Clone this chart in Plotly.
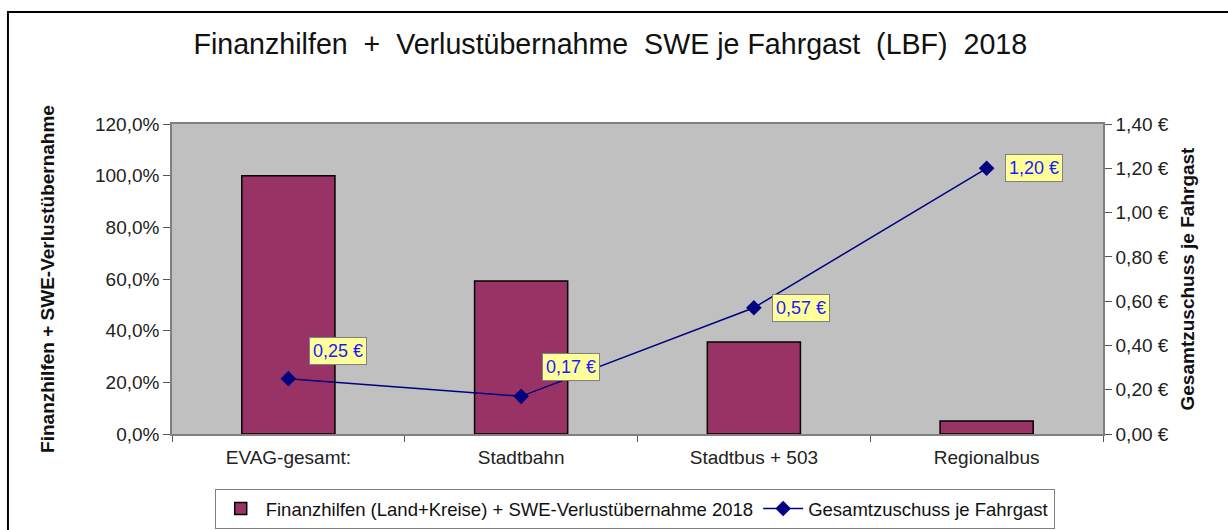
import plotly.graph_objects as go

categories = ["EVAG-gesamt:", "Stadtbahn", "Stadtbus + 503", "Regionalbus"]
bar_values = [100.0, 59.2, 35.6, 5.0]          # Finanzhilfen + SWE-Verlustübernahme, %
line_values = [0.25, 0.17, 0.57, 1.20]         # Gesamtzuschuss je Fahrgast, €
line_labels = ["0,25 €", "0,17 €", "0,57 €", "1,20 €"]
label_shifts = [(50, 28), (50, 29), (47, 0), (47, 0)]

FONT = "Liberation Sans, Arial, sans-serif"

fig = go.Figure()
fig.add_trace(go.Bar(
    x=categories, y=bar_values,
    name="Finanzhilfen (Land+Kreise) + SWE-Verlustübernahme 2018",
    marker=dict(color="#993366", line=dict(color="#000000", width=1.5)),
    width=0.4, yaxis="y",
))
fig.add_trace(go.Scatter(
    x=categories, y=line_values, yaxis="y2",
    name="Gesamtzuschuss je Fahrgast",
    mode="lines+markers",
    line=dict(color="#000080", width=1.5),
    marker=dict(symbol="diamond", size=12, color="#000080"),
))

for c, v, t, (dx, dy) in zip(categories, line_values, line_labels, label_shifts):
    fig.add_annotation(
        x=c, y=v, xref="x", yref="y2", text=t, showarrow=False,
        xshift=dx, yshift=dy,
        font=dict(family=FONT, size=18, color="#1a1aff"),
        bgcolor="#FFFF99", bordercolor="#808080", borderwidth=1, borderpad=3,
    )

# outer chart frame
fig.add_shape(type="rect", xref="paper", yref="paper",
              x0=-0.1762, x1=1.2, y0=-0.4, y1=1.3613,
              line=dict(color="#000000", width=2), layer="below")

fig.update_layout(
    width=1228, height=530,
    margin=dict(l=172, r=125, t=124, b=96, autoexpand=False),
    paper_bgcolor="#FFFFFF", plot_bgcolor="#C0C0C0",
    separators=",.",
    font=dict(family=FONT, size=19, color="#222222"),
    title=dict(
        text="Finanzhilfen\u00a0 +\u00a0 Verlustübernahme\u00a0 SWE je Fahrgast\u00a0 (LBF)\u00a0 2018",
        x=0.497, xanchor="center", y=0.917, yanchor="middle",
        font=dict(family=FONT, size=28.6, color="#111111"),
    ),
    bargap=0.6,
    xaxis=dict(
        automargin=False,
        showgrid=False, showline=True, linecolor="#808080", linewidth=1.5, mirror=True,
        ticks="outside", tickson="boundaries", ticklen=6, tickcolor="#555555",
        tickfont=dict(size=19, color="#222222"), ticklabelstandoff=5,
    ),
    yaxis=dict(
        automargin=False,
        range=[0, 120], dtick=20, tickformat=".1f", ticksuffix="%",
        showgrid=False, showline=True, linecolor="#808080", linewidth=1.5,
        ticks="outside", ticklen=7, tickcolor="#555555",
        zeroline=False,
        title=dict(text="<b>Finanzhilfen + SWE-Verlustübernahme</b>",
                   font=dict(size=19, color="#111111"), standoff=35),
    ),
    yaxis2=dict(
        automargin=False,
        overlaying="y", side="right",
        range=[0, 1.4], dtick=0.2, tickformat=".2f", ticksuffix=" €",
        showgrid=False, showline=True, linecolor="#808080", linewidth=1.5,
        ticks="outside", ticklen=7, tickcolor="#555555", zeroline=False,
        title=dict(text="<b>Gesamtzuschuss je Fahrgast</b>",
                   font=dict(size=19, color="#111111"), standoff=13),
    ),
    showlegend=True,
    legend=dict(
        orientation="h", x=0.497, xanchor="center",
        yref="container", y=0.0774, yanchor="top",
        bordercolor="#808080", borderwidth=1, bgcolor="#FFFFFF",
        font=dict(size=18.5, color="#111111"), traceorder="normal",
        itemwidth=40,
    ),
)

fig.write_html("out.html", config={"displayModeBar": False},
               post_script="document.body.style.margin='0px';")
